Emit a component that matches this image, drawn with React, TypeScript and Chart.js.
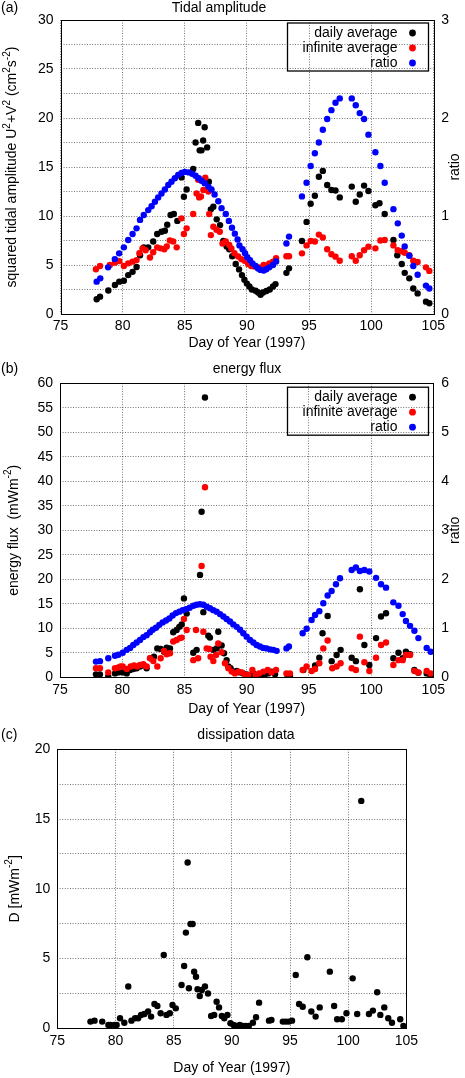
import { useEffect, useRef } from "react";
import { Chart, registerables } from "chart.js";

Chart.register(...registerables);

const FONT = "'Liberation Sans', Arial, Helvetica, sans-serif";
const GRID = "rgba(0,0,0,0.55)";
const W = 465;

// (a) tidal amplitude
const dailyDaysA = [77.91, 78.18, 78.85, 79.38, 79.73, 80.1, 80.45, 80.8, 81.12, 81.4, 81.7, 82.06, 82.46, 82.78, 83.13, 83.4, 83.59, 83.86, 84.12, 84.4, 84.74, 84.93, 85.15, 85.68, 85.87, 86.08, 86.2, 86.35, 86.48, 86.6, 86.8, 86.94, 87.1, 87.3, 87.57, 87.84, 88.1, 88.37, 88.58, 88.82, 89.1, 89.37, 89.6, 89.8, 90.0, 90.2, 90.4, 90.7, 90.9, 91.1, 91.3, 91.57, 91.84, 92.1, 92.3, 93.18, 93.39, 94.43, 94.8, 95.13, 95.47, 95.79, 96.11, 96.46, 96.8, 97.13, 97.47, 98.44, 98.76, 99.08, 99.43, 99.78, 100.34, 100.67, 101.09, 101.79, 102.1, 102.46, 102.7, 103.07, 103.39, 103.74, 104.41, 104.68];
const dailyA = [1.5, 1.77, 2.4, 2.96, 3.3, 3.4, 3.97, 4.3, 4.8, 6.0, 6.8, 6.8, 7.4, 8.16, 8.4, 8.5, 9.1, 10.1, 10.2, 9.5, 13.94, 11.97, 12.7, 14.8, 17.5, 19.5, 16.7, 16.7, 17.7, 19.05, 17.0, 13.5, 10.68, 10.95, 9.66, 9.07, 7.45, 6.9, 6.6, 5.9, 5.1, 4.55, 3.97, 3.5, 3.1, 2.8, 2.5, 2.38, 2.2, 1.97, 2.2, 2.35, 2.5, 2.8, 3.05, 4.2, 4.66, 7.45, 9.4, 11.25, 12.07, 14.0, 14.6, 13.16, 12.65, 12.6, 11.9, 13.0, 11.46, 12.2, 13.1, 12.55, 11.1, 11.3, 10.2, 7.55, 6.0, 5.1, 4.2, 3.64, 2.6, 2.1, 1.26, 1.09];
const infiniteDaysA = [77.85, 78.18, 78.97, 79.38, 79.73, 80.1, 80.45, 80.8, 81.12, 81.35, 81.6, 81.85, 82.2, 82.46, 82.78, 83.05, 83.35, 83.55, 83.8, 84.07, 84.35, 84.74, 84.93, 85.15, 85.68, 85.95, 86.08, 86.16, 86.3, 86.5, 86.65, 86.9, 86.97, 87.1, 87.3, 87.55, 87.82, 88.04, 88.3, 88.58, 88.75, 89.0, 89.3, 89.55, 89.82, 90.1, 90.35, 90.6, 91.0, 91.35, 91.56, 91.8, 92.1, 92.35, 93.18, 93.39, 94.43, 94.8, 95.13, 95.47, 95.79, 96.11, 96.46, 96.8, 97.13, 97.47, 98.44, 98.76, 99.08, 99.43, 99.78, 100.34, 100.74, 101.09, 101.79, 102.14, 102.46, 102.7, 103.07, 103.39, 103.74, 104.41, 104.68];
const infiniteA = [4.56, 4.9, 5.0, 5.24, 5.4, 4.9, 5.17, 5.34, 5.5, 6.2, 6.7, 6.5, 5.77, 6.3, 6.8, 6.7, 6.6, 6.9, 7.5, 7.4, 6.8, 9.76, 8.16, 8.74, 10.2, 12.3, 13.7, 11.9, 12.0, 12.65, 13.9, 12.5, 10.2, 8.05, 8.9, 8.6, 8.4, 7.2, 7.4, 7.04, 6.7, 6.2, 5.87, 5.6, 5.44, 5.1, 4.9, 4.85, 4.76, 5.0, 4.9, 5.17, 5.34, 5.7, 5.9, 5.9, 6.19, 7.0, 7.45, 7.4, 8.1, 7.8, 6.6, 6.1, 5.85, 5.44, 5.9, 5.44, 6.0, 6.5, 6.87, 6.7, 7.5, 7.55, 7.0, 6.5, 6.4, 6.25, 6.0, 5.44, 5.3, 4.76, 4.4];
const ratioDaysA = [77.91, 78.2, 78.83, 79.37, 79.72, 80.1, 80.45, 80.8, 81.12, 81.4, 81.7, 82.06, 82.33, 82.6, 82.86, 83.13, 83.4, 83.67, 83.93, 84.2, 84.47, 84.74, 85.0, 85.33, 85.6, 85.87, 86.13, 86.35, 86.6, 86.9, 87.15, 87.4, 87.7, 87.96, 88.3, 88.55, 88.8, 89.03, 89.25, 89.4, 89.65, 89.85, 90.03, 90.25, 90.45, 90.7, 90.9, 91.1, 91.35, 91.56, 91.8, 92.1, 92.35, 93.18, 93.39, 94.43, 94.8, 95.13, 95.47, 95.79, 96.11, 96.46, 96.8, 97.13, 97.47, 98.44, 98.76, 99.08, 99.43, 99.78, 100.34, 100.74, 101.09, 101.79, 102.14, 102.46, 102.7, 103.07, 103.39, 103.74, 104.41, 104.68];
const ratioA = [0.33, 0.364, 0.476, 0.56, 0.619, 0.68, 0.755, 0.816, 0.874, 0.96, 1.01, 1.06, 1.1, 1.146, 1.19, 1.23, 1.27, 1.316, 1.35, 1.385, 1.42, 1.44, 1.45, 1.445, 1.43, 1.41, 1.385, 1.36, 1.335, 1.3, 1.27, 1.22, 1.15, 1.08, 1.02, 0.95, 0.88, 0.82, 0.76, 0.7, 0.66, 0.62, 0.58, 0.55, 0.517, 0.49, 0.465, 0.45, 0.444, 0.457, 0.476, 0.5, 0.536, 0.72, 0.79, 1.2, 1.34, 1.51, 1.64, 1.75, 1.88, 1.99, 2.08, 2.156, 2.2, 2.2, 2.13, 2.05, 1.99, 1.83, 1.65, 1.51, 1.34, 1.07, 0.925, 0.8, 0.69, 0.595, 0.49, 0.4, 0.29, 0.26];

// (b) energy flux
const dailyDaysB = [77.89, 78.21, 78.88, 79.42, 79.69, 80.04, 80.36, 80.63, 80.89, 81.16, 81.43, 81.7, 81.96, 82.29, 82.55, 82.82, 83.09, 83.36, 83.57, 83.84, 84.1, 84.37, 84.59, 84.78, 84.96, 85.18, 85.71, 85.98, 86.25, 86.38, 86.52, 86.65, 86.92, 87.05, 87.32, 87.59, 87.72, 87.99, 88.18, 88.39, 88.53, 88.71, 88.93, 89.2, 89.47, 89.73, 90.0, 90.27, 90.54, 90.8, 91.2, 91.47, 91.74, 92.0, 92.28, 93.27, 93.48, 94.56, 95.5, 95.84, 96.1, 96.51, 96.83, 97.23, 97.55, 98.44, 98.78, 99.1, 99.46, 99.86, 100.4, 100.8, 101.2, 101.79, 102.2, 102.54, 102.8, 103.13, 103.48, 103.8, 104.47, 104.79];
const dailyB = [0.6, 0.6, 0.15, 0.8, 1.0, 1.0, 0.8, 1.5, 1.7, 1.85, 2.2, 2.5, 1.85, 3.9, 4.2, 5.9, 5.8, 5.2, 6.05, 5.9, 9.2, 9.66, 10.3, 10.8, 16.1, 13.0, 5.0, 5.6, 20.9, 33.8, 13.3, 57.1, 8.5, 8.1, 5.6, 5.9, 9.3, 6.5, 4.9, 3.5, 2.2, 1.84, 1.16, 1.3, 1.0, 0.8, 0.6, 0.5, 0.8, 0.34, 0.15, 0.6, 0.8, 1.16, 0.6, 0.48, 0.34, 1.5, 2.4, 4.0, 9.0, 12.5, 3.3, 4.56, 5.6, 4.0, 3.3, 17.96, 6.6, 2.5, 8.0, 12.4, 13.06, 3.9, 5.0, 3.9, 5.24, 4.7, 1.5, 0.95, 0.8, 0.14];
const infiniteDaysB = [77.89, 78.21, 78.88, 79.42, 79.69, 79.87, 80.04, 80.36, 80.68, 80.95, 81.2, 81.43, 81.7, 81.96, 82.23, 82.5, 82.82, 83.09, 83.36, 83.57, 83.84, 84.1, 84.37, 84.64, 84.78, 84.96, 85.18, 85.71, 85.93, 86.1, 86.38, 86.52, 86.65, 86.79, 87.0, 87.1, 87.32, 87.54, 87.72, 87.99, 88.26, 88.53, 88.8, 89.06, 89.33, 89.6, 89.87, 90.13, 90.46, 90.72, 90.99, 91.34, 91.69, 92.0, 92.36, 93.2, 93.48, 94.5, 94.82, 95.22, 95.5, 95.84, 96.16, 96.51, 96.88, 97.23, 97.55, 98.44, 98.78, 99.1, 99.46, 99.86, 100.4, 100.8, 101.2, 101.79, 102.2, 102.54, 102.8, 103.13, 103.48, 103.8, 104.47, 104.79];
const infiniteB = [1.84, 1.84, 1.0, 1.84, 2.0, 2.2, 2.2, 1.7, 2.2, 2.4, 2.2, 2.5, 2.65, 2.2, 3.9, 3.33, 2.2, 3.9, 5.37, 4.7, 4.9, 7.3, 7.6, 8.0, 8.1, 11.9, 9.66, 3.5, 9.66, 3.9, 22.7, 9.3, 38.8, 5.9, 5.8, 4.2, 3.33, 4.56, 6.9, 5.1, 2.86, 1.84, 1.16, 0.8, 1.16, 1.0, 0.6, 0.48, 1.5, 0.48, 0.8, 1.16, 1.5, 1.0, 1.5, 0.8, 0.8, 1.5, 2.2, 1.3, 1.7, 2.86, 5.9, 7.5, 1.84, 2.2, 2.86, 1.84, 1.5, 8.3, 3.06, 1.3, 4.0, 6.6, 7.1, 2.5, 3.5, 3.5, 4.56, 4.56, 1.3, 1.0, 1.3, 0.8];
const ratioDaysB = [77.89, 78.21, 78.88, 79.42, 79.69, 80.04, 80.36, 80.63, 80.89, 81.16, 81.43, 81.7, 81.96, 82.23, 82.45, 82.71, 82.98, 83.25, 83.52, 83.79, 84.05, 84.32, 84.59, 84.86, 85.13, 85.42, 85.72, 85.98, 86.25, 86.52, 86.79, 87.05, 87.32, 87.59, 87.86, 88.13, 88.39, 88.66, 88.93, 89.2, 89.47, 89.73, 90.0, 90.27, 90.54, 90.8, 91.07, 91.34, 91.61, 91.88, 92.14, 92.41, 93.2, 93.4, 94.5, 94.82, 95.22, 95.5, 95.84, 96.16, 96.51, 96.83, 97.18, 97.5, 98.44, 98.78, 99.1, 99.46, 99.86, 100.4, 100.8, 101.2, 101.79, 102.2, 102.54, 102.8, 103.13, 103.48, 103.8, 104.47, 104.79];
const ratioB = [0.32, 0.33, 0.39, 0.44, 0.46, 0.5, 0.56, 0.6, 0.66, 0.71, 0.76, 0.82, 0.86, 0.92, 0.97, 1.01, 1.07, 1.12, 1.16, 1.2, 1.26, 1.31, 1.34, 1.37, 1.39, 1.42, 1.46, 1.48, 1.49, 1.48, 1.44, 1.41, 1.37, 1.34, 1.29, 1.24, 1.19, 1.14, 1.08, 1.03, 0.97, 0.9, 0.83, 0.76, 0.71, 0.66, 0.63, 0.6, 0.59, 0.57, 0.56, 0.54, 0.59, 0.63, 0.9, 0.99, 1.17, 1.27, 1.35, 1.51, 1.67, 1.76, 1.9, 2.02, 2.19, 2.24, 2.17, 2.19, 2.16, 2.03, 1.9, 1.83, 1.53, 1.46, 1.29, 1.15, 1.05, 0.95, 0.8, 0.6, 0.52];

// (c) dissipation
const daysC = [77.85, 78.2, 78.86, 79.39, 79.57, 79.92, 80.1, 80.39, 80.76, 81.1, 81.37, 81.69, 81.95, 82.2, 82.48, 82.8, 83.06, 83.35, 83.6, 83.88, 84.15, 84.38, 84.67, 84.9, 85.18, 85.68, 85.9, 86.05, 86.2, 86.31, 86.45, 86.63, 86.76, 86.92, 87.05, 87.24, 87.42, 87.69, 87.95, 88.22, 88.48, 88.69, 88.9, 89.14, 89.35, 89.62, 89.88, 90.15, 90.41, 90.68, 90.94, 91.2, 91.47, 91.81, 92.08, 92.34, 93.19, 93.4, 94.38, 94.64, 94.9, 95.17, 95.49, 95.78, 96.09, 96.49, 96.83, 97.2, 97.55, 98.42, 98.79, 99.05, 99.45, 99.85, 100.38, 100.77, 101.12, 101.78, 102.12, 102.49, 102.76, 103.1, 103.44, 103.76, 104.47, 104.74];
const dissipationC = [0.48, 0.55, 0.48, 0.24, 0.24, 0.24, 0.24, 0.72, 0.4, 3.0, 0.55, 0.72, 0.72, 0.96, 1.03, 1.2, 0.84, 1.74, 1.6, 1.08, 5.26, 0.96, 1.08, 1.67, 1.43, 3.1, 4.47, 6.86, 11.88, 2.87, 7.48, 7.48, 4.06, 3.7, 2.8, 2.32, 2.75, 3.0, 2.5, 0.88, 0.96, 1.9, 1.5, 0.88, 0.72, 0.96, 0.36, 0.24, 0.17, 0.24, 0.17, 0.17, 0.17, 0.4, 0.79, 1.84, 0.55, 0.6, 0.48, 0.48, 0.48, 0.55, 3.82, 1.74, 1.55, 5.09, 1.2, 0.84, 1.5, 4.06, 1.6, 0.65, 0.65, 1.08, 3.58, 1.03, 16.3, 1.03, 1.27, 2.58, 0.96, 1.5, 0.72, 0.4, 0.65, 0.17];

type Seg = { t: string; sup?: boolean };

interface Series {
  label: string;
  color: string;
  days: number[];
  values: number[];
  axis: "y" | "y2";
}

interface PanelProps {
  top: number;
  height: number;
  area: { left: number; right: number; top: number; bottom: number };
  tag: string;
  title: string;
  titleX: number;
  headY: number;
  xTitleY: number;
  yTitleX: number;
  yTitle: Seg[];
  yMax: number;
  y2Max?: number;
  series: Series[];
  legendTop?: number;
}

function font(size: number) {
  return `${size}px ${FONT}`;
}

function drawRich(ctx: CanvasRenderingContext2D, segs: Seg[], x: number, y: number, size: number, rotate: boolean) {
  const small = size * 0.72;
  let total = 0;
  for (const s of segs) {
    ctx.font = font(s.sup ? small : size);
    total += ctx.measureText(s.t).width;
  }
  ctx.save();
  ctx.translate(x, y);
  if (rotate) ctx.rotate(-Math.PI / 2);
  ctx.textBaseline = "middle";
  ctx.textAlign = "left";
  let cx = -total / 2;
  for (const s of segs) {
    ctx.font = font(s.sup ? small : size);
    ctx.fillText(s.t, cx, s.sup ? -size * 0.38 : 0);
    cx += ctx.measureText(s.t).width;
  }
  ctx.restore();
}

function Panel(props: PanelProps) {
  const canvasRef = useRef<HTMLCanvasElement>(null);

  useEffect(() => {
    const canvas = canvasRef.current;
    if (!canvas) return;
    const { area, height, yMax, y2Max, series } = props;
    const hasY2 = y2Max !== undefined;

    const overlay = {
      id: "gnuplotFrame",
      afterDraw(chart: Chart) {
        const ctx = chart.ctx;
        const ca = chart.chartArea;
        ctx.save();
        ctx.strokeStyle = "#000";
        ctx.lineWidth = 1;
        ctx.strokeRect(Math.round(ca.left) + 0.5, Math.round(ca.top) + 0.5, Math.round(ca.right - ca.left), Math.round(ca.bottom - ca.top));
        ctx.fillStyle = "#000";

        ctx.font = font(14);
        ctx.textBaseline = "middle";
        ctx.textAlign = "left";
        ctx.fillText(props.tag, 1, props.headY);
        ctx.textAlign = "center";
        ctx.fillText(props.title, props.titleX, props.headY);
        ctx.fillText("Day of Year (1997)", (ca.left + ca.right) / 2, props.xTitleY);

        const midY = (ca.top + ca.bottom) / 2;
        drawRich(ctx, props.yTitle, props.yTitleX, midY, 14, true);
        if (hasY2) drawRich(ctx, [{ t: "ratio" }], 455, midY, 14, true);

        if (props.legendTop !== undefined) {
          const bx = 287;
          const by = ca.top + props.legendTop;
          ctx.lineWidth = 1.3;
          ctx.strokeRect(bx + 0.5, by + 0.5, 141, 48);
          ctx.font = font(14);
          ctx.textAlign = "right";
          series.forEach((s, i) => {
            const ry = by + 10.5 + i * 15;
            ctx.fillStyle = "#000";
            ctx.fillText(s.label, 397.5, ry);
            ctx.fillStyle = s.color;
            ctx.beginPath();
            ctx.arc(412.5, ry, 3.4, 0, Math.PI * 2);
            ctx.fill();
          });
        }
        ctx.restore();
      },
    };

    const grid = { color: GRID, lineWidth: 1, drawTicks: false };
    const border = { display: false, dash: [1, 1.6] };
    const tickFont = { family: FONT, size: 14 };

    const chart = new Chart(canvas, {
      type: "scatter",
      data: {
        // later series are drawn first, so list in reverse to keep ratio on top
        datasets: [...series].reverse().map((s) => ({
          label: s.label,
          data: s.days.map((d, i) => ({ x: d, y: s.values[i] })),
          yAxisID: s.axis,
          backgroundColor: s.color,
          borderColor: s.color,
          pointRadius: 3.2,
          pointHoverRadius: 3.2,
          pointBorderWidth: 0,
        })),
      },
      options: {
        animation: false,
        responsive: false,
        events: [],
        layout: { padding: { top: area.top, left: 0, bottom: 0, right: hasY2 ? 0 : W - area.right } },
        plugins: { legend: { display: false }, tooltip: { enabled: false } },
        scales: {
          x: {
            type: "linear",
            position: "bottom",
            min: 75,
            max: 105,
            ticks: { stepSize: 5, padding: 4, font: tickFont, color: "#000", maxRotation: 0 },
            grid,
            border,
            afterFit: (s: any) => {
              s.height = height - area.bottom;
            },
          },
          y: {
            type: "linear",
            position: "left",
            min: 0,
            max: yMax,
            ticks: {
              stepSize: 2.5,
              padding: 7,
              font: tickFont,
              color: "#000",
              callback: (v: any) => (Number(v) % 5 === 0 ? String(v) : ""),
            },
            grid,
            border,
            afterFit: (s: any) => {
              s.width = area.left;
            },
          },
          y2: {
            type: "linear",
            position: "right",
            display: hasY2,
            min: 0,
            max: y2Max ?? 1,
            ticks: { stepSize: 1, padding: 8, font: tickFont, color: "#000" },
            grid: { display: false, drawTicks: false },
            border: { display: false },
            afterFit: (s: any) => {
              s.width = W - area.right;
            },
          },
        },
      },
      plugins: [overlay],
    });

    return () => {
      chart.destroy();
    };
  }, [canvasRef]);

  return (
    <canvas
      ref={canvasRef}
      width={W}
      height={props.height}
      style={{ position: "absolute", left: 0, top: props.top, width: W, height: props.height }}
    />
  );
}

const legendNames = ["daily average", "infinite average", "ratio"];
const colors = ["#000000", "#ff0000", "#0000ff"];

export default function App() {
  useEffect(() => {
    document.body.style.margin = "0";
    document.body.style.background = "#fff";
  }, []);

  const seriesA: Series[] = [
    { label: legendNames[0], color: colors[0], days: dailyDaysA, values: dailyA, axis: "y" },
    { label: legendNames[1], color: colors[1], days: infiniteDaysA, values: infiniteA, axis: "y" },
    { label: legendNames[2], color: colors[2], days: ratioDaysA, values: ratioA, axis: "y2" },
  ];
  const seriesB: Series[] = [
    { label: legendNames[0], color: colors[0], days: dailyDaysB, values: dailyB, axis: "y" },
    { label: legendNames[1], color: colors[1], days: infiniteDaysB, values: infiniteB, axis: "y" },
    { label: legendNames[2], color: colors[2], days: ratioDaysB, values: ratioB, axis: "y2" },
  ];
  const seriesC: Series[] = [
    { label: "dissipation", color: colors[0], days: daysC, values: dissipationC, axis: "y" },
  ];

  return (
    <div style={{ position: "relative", width: W, height: 1078, background: "#fff" }}>
      <Panel
        top={0}
        height={355}
        area={{ left: 60.5, right: 433.3, top: 20, bottom: 314 }}
        tag="(a)"
        title="Tidal amplitude"
        titleX={219}
        headY={8}
        xTitleY={343}
        yTitleX={12.5}
        yTitle={[
          { t: "squared tidal amplitude U" },
          { t: "2", sup: true },
          { t: "+V" },
          { t: "2", sup: true },
          { t: " (cm" },
          { t: "2", sup: true },
          { t: "s" },
          { t: "-2", sup: true },
          { t: ")" },
        ]}
        yMax={30}
        y2Max={3}
        series={seriesA}
        legendTop={2.5}
      />
      <Panel
        top={355}
        height={365}
        area={{ left: 60, right: 433.3, top: 28.3, bottom: 322.3 }}
        tag="(b)"
        title="energy flux"
        titleX={247}
        headY={14}
        xTitleY={354}
        yTitleX={14}
        yTitle={[{ t: "energy flux  (mWm" }, { t: "-2", sup: true }, { t: ")" }]}
        yMax={60}
        y2Max={6}
        series={seriesB}
        legendTop={3.4}
      />
      <Panel
        top={720}
        height={358}
        area={{ left: 57.3, right: 435.7, top: 29.3, bottom: 308.3 }}
        tag="(c)"
        title="dissipation data"
        titleX={246}
        headY={15}
        xTitleY={348}
        yTitleX={15}
        yTitle={[{ t: "D [mWm" }, { t: "-2", sup: true }, { t: "]" }]}
        yMax={20}
        series={seriesC}
      />
    </div>
  );
}
